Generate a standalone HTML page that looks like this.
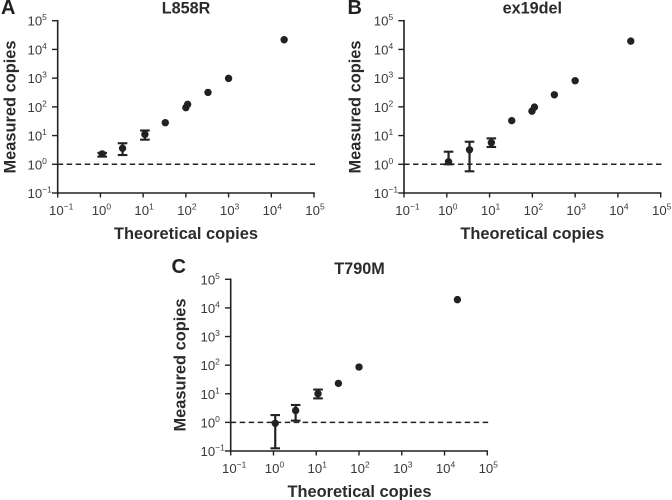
<!DOCTYPE html>
<html>
<head>
<meta charset="utf-8">
<title>Measured vs theoretical copies</title>
<style>
html,body{margin:0;padding:0;background:#fff;width:672px;height:500px;overflow:hidden}
svg{display:block;font-family:"Liberation Sans",sans-serif}
.tick{font-size:13.2px;fill:#3a3a3a}
.sup{font-size:8.5px}
.axis-title{font-size:16.4px;font-weight:bold;fill:#2b2b2b}
.panel-title{font-size:16.2px;font-weight:bold;fill:#2b2b2b}
.panel-letter{font-size:20px;font-weight:bold;fill:#222}
</style>
</head>
<body>
<svg id="chart" width="672" height="500" viewBox="0 0 672 500" xmlns="http://www.w3.org/2000/svg"></svg>
<script>
var tickExponents = [-1, 0, 1, 2, 3, 4, 5];
var xTitle = 'Theoretical copies';
var yTitle = 'Measured copies';
var referenceLevel = 1;

var l858rX = [1.1, 3.3, 11, 33, 100, 110, 330, 1000, 20000];
var l858rY = [2.3, 3.6, 11, 28, 94, 122, 318, 980, 21700];
var l858rLow = [1.85, 2.1, 7.2, null, null, null, null, null, null];
var l858rHigh = [2.5, 5.4, 15, null, null, null, null, null, null];

var ex19delX = [1.1, 3.4, 11, 33, 98, 112, 327, 1000, 20000];
var ex19delY = [1.23, 3.2, 5.65, 33, 71, 98, 263, 813, 19500];
var ex19delLow = [1.0, 0.57, 4.0, null, null, null, null, null, null];
var ex19delHigh = [2.74, 6.1, 7.97, null, null, null, null, null, null];

var t790mX = [1.1, 3.3, 11, 33, 100, 20000];
var t790mY = [0.93, 2.6, 10, 23, 86, 19500];
var t790mLow = [0.124, 1.15, 6.9, null, null, null];
var t790mHigh = [1.8, 4.05, 14, null, null, null];

var svg = document.getElementById('chart');
var NS = 'http://www.w3.org/2000/svg';

function make(tag, attrs, parent) {
  var el = document.createElementNS(NS, tag);
  for (var k in attrs) { el.setAttribute(k, attrs[k]); }
  parent.appendChild(el);
  return el;
}

function powerLabel(parent, exponent, x, y) {
  var t = make('text', { x: x, y: y, 'text-anchor': 'start', 'class': 'tick' }, parent);
  
  
  t.appendChild(document.createTextNode('10'));
  var s = make('tspan', { dy: -5.5, 'class': 'sup' }, t);
  s.textContent = exponent < 0 ? '\u2212' + Math.abs(exponent) : String(exponent);
  return t;
}

function drawPanel(p) {
  var g = make('g', {}, svg);
  
  

  var minExp = tickExponents[0];
  var maxExp = tickExponents[tickExponents.length - 1];
  function sx(v) { return p.left + (Math.log10(v) - minExp) / (maxExp - minExp) * (p.right - p.left); }
  function sy(v) { return p.bottom - (Math.log10(v) - minExp) / (maxExp - minExp) * (p.bottom - p.top); }

  var letter = make('text', { x: p.letterX, y: p.letterY, 'class': 'panel-letter' }, g);
  
  
  letter.textContent = p.letter;

  var title = make('text', { x: p.midX, y: p.titleY, 'text-anchor': 'middle', 'class': 'panel-title' }, g);
  
  
  title.textContent = p.title;

  var yAxis = make('line', { x1: p.left, x2: p.left, y1: p.top - 0.8, y2: p.bottom + 0.8, stroke: '#222', 'stroke-width': 1.6 }, g);
  
  

  var xAxis = make('line', { x1: p.left - 0.8, x2: p.right + 0.8, y1: p.bottom, y2: p.bottom, stroke: '#222', 'stroke-width': 1.6 }, g);
  
  

  tickExponents.forEach(function (e) {
    var v = Math.pow(10, e);
    var xt = make('line', { x1: sx(v), x2: sx(v), y1: p.bottom, y2: p.bottom + 4.5, stroke: '#222', 'stroke-width': 1.4 }, g);
    
    
    var yt = make('line', { x1: p.left - 5.7, x2: p.left, y1: sy(v), y2: sy(v), stroke: '#222', 'stroke-width': 1.4 }, g);
    
    
    powerLabel(g, e, sx(v) - 8.7, p.bottom + 22);
    powerLabel(g, e, p.left - 30.2, sy(v) + 5);
  });

  var ref = make('line', { x1: p.left, x2: p.right + 1, y1: sy(referenceLevel), y2: sy(referenceLevel), stroke: '#222', 'stroke-width': 1.5, 'stroke-dasharray': '5.5 3.5' }, g);
  
  

  p.xs.forEach(function (xv, i) {
    var cx = sx(xv);
    if (p.low[i] !== null) {
      var bar = make('line', { x1: cx, x2: cx, y1: sy(p.low[i]), y2: sy(p.high[i]), stroke: '#222', 'stroke-width': 2.2 }, g);
      
      
      var capLow = make('line', { x1: cx - 4.8, x2: cx + 4.8, y1: sy(p.low[i]), y2: sy(p.low[i]), stroke: '#222', 'stroke-width': 2.1 }, g);
      
      
      var capHigh = make('line', { x1: cx - 4.8, x2: cx + 4.8, y1: sy(p.high[i]), y2: sy(p.high[i]), stroke: '#222', 'stroke-width': 2.1 }, g);
      
      
    }
    var dot = make('circle', { cx: cx, cy: sy(p.ys[i]), r: 3.7, fill: '#222' }, g);
    
    
  });

  var xLab = make('text', { x: p.midX, y: p.xTitleY, 'text-anchor': 'middle', 'class': 'axis-title' }, g);
  
  
  xLab.textContent = xTitle;

  var yLab = make('text', { x: 0, y: 0, 'text-anchor': 'middle', 'class': 'axis-title', transform: 'translate(' + p.yTitleX + ',' + p.yTitleMid + ') rotate(-90)' }, g);
  
  
  yLab.textContent = yTitle;
}

drawPanel({ key: 'l858r', letter: 'A', title: 'L858R', left: 57.7, right: 314, top: 20.7, bottom: 193,
  letterX: 1, letterY: 14, midX: 186, titleY: 13.5, xTitleY: 239, yTitleX: 15.5, yTitleMid: 107,
  xs: l858rX, ys: l858rY, low: l858rLow, high: l858rHigh });

drawPanel({ key: 'ex19del', letter: 'B', title: 'ex19del', left: 404, right: 660.7, top: 20.7, bottom: 193,
  letterX: 347.5, letterY: 14, midX: 532.3, titleY: 13.5, xTitleY: 239, yTitleX: 360.5, yTitleMid: 107,
  xs: ex19delX, ys: ex19delY, low: ex19delLow, high: ex19delHigh });

drawPanel({ key: 't790m', letter: 'C', title: 'T790M', left: 230.7, right: 487.3, top: 279.3, bottom: 451,
  letterX: 171.5, letterY: 273, midX: 359.5, titleY: 274, xTitleY: 497, yTitleX: 185.5, yTitleMid: 365,
  xs: t790mX, ys: t790mY, low: t790mLow, high: t790mHigh });
</script>
</body>
</html>
